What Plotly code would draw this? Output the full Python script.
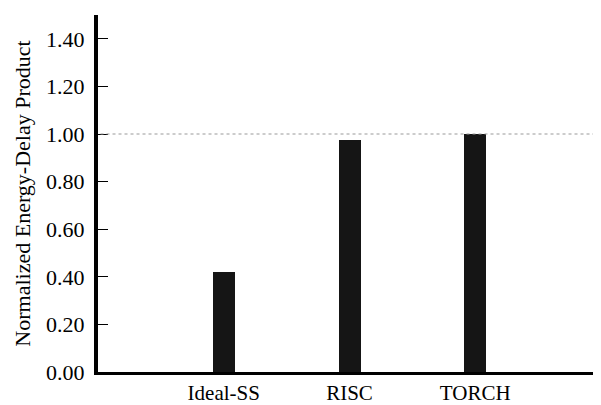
import plotly.graph_objects as go

categories = ["Ideal-SS", "RISC", "TORCH"]
positions = [1, 2, 3]
values = [0.42, 0.975, 1.0]
reference_level = 1.0
ytick_vals = [0.0, 0.2, 0.4, 0.6, 0.8, 1.0, 1.2, 1.4]
ytick_text = ["0.00", "0.20", "0.40", "0.60", "0.80", "1.00", "1.20", "1.40"]

FONT = "Liberation Serif, Times New Roman, serif"

fig = go.Figure()
fig.add_trace(go.Bar(
    x=positions, y=values, width=0.175,
    marker=dict(color="#151515", line=dict(width=0)),
    showlegend=False,
))
fig.add_shape(type="line", xref="paper", yref="y", x0=0.005, x1=1, y0=reference_level, y1=reference_level,
              line=dict(color="#9a9a9a", width=1.2, dash="dot"))

# page body has an 8px default margin; sizes compensate for it
fig.update_layout(
    width=593, height=397,
    margin=dict(l=90, r=0, t=7, b=33),
    paper_bgcolor="white", plot_bgcolor="white",
    font=dict(family=FONT, size=22, color="black"),
    bargap=0,
)
fig.update_xaxes(
    range=[0, 4], tickvals=positions, ticktext=categories,
    showline=True, linecolor="black", linewidth=3,
    showgrid=False, zeroline=False, ticks="", ticklabelstandoff=0,
    tickfont=dict(family=FONT, size=21, color="black"),
    automargin=False,
)
fig.update_yaxes(
    range=[0, 1.5], tickvals=ytick_vals, ticktext=ytick_text,
    showline=True, linecolor="black", linewidth=4,
    showgrid=False, zeroline=False,
    ticks="inside", ticklen=10, tickwidth=1, tickcolor="black",
    ticklabelstandoff=5,
    tickfont=dict(family=FONT, size=22, color="black"),
    title=dict(text="Normalized Energy-Delay Product", font=dict(family=FONT, size=22, color="black"), standoff=10),
    automargin=False,
)
fig.write_html("out.html")
